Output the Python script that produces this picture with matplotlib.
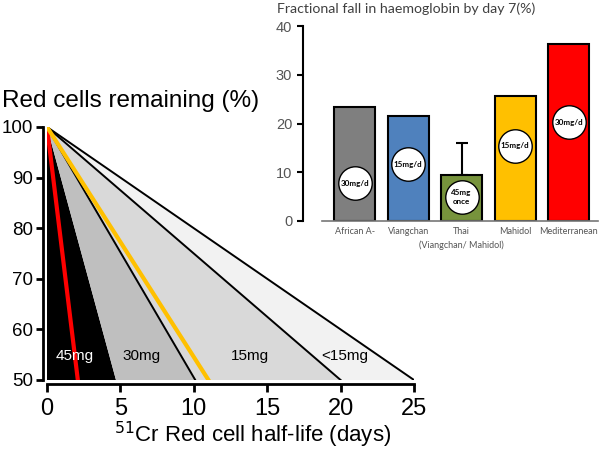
#!/usr/bin/env python3

import matplotlib
matplotlib.use("Agg")
import matplotlib.pyplot as plt

# left panel: 51Cr red cell half-life boundaries at 50% remaining (days)
dose_labels = ['45mg', '30mg', '15mg', '<15mg']
half_life_edges = [4.7, 10.1, 20.0, 25.0]
region_colors = ['#000000', '#bfbfbf', '#d9d9d9', '#f2f2f2']
red_half_life = 2.1
yellow_half_life = 11.0

# right panel: fractional fall in haemoglobin by day 7 (%)
groups = ['African A-', 'Viangchan', 'Thai', 'Mahidol', 'Mediterranean']
group_notes = ['', '', '(Viangchan/ Mahidol)', '', '']
hb_fall = [23.4, 21.5, 9.4, 25.7, 36.4]
hb_err_up = [0, 0, 6.7, 0, 0]
doses = ['30mg/d', '15mg/d', '45mg\nonce', '15mg/d', '30mg/d']
dose_y = [7.7, 11.6, 4.9, 15.4, 20.3]
bar_colors = ['#7f7f7f', '#4f81bd', '#77933c', '#ffc000', '#ff0000']

plt.rcParams['font.family'] = ['Liberation Sans', 'DejaVu Sans']

fig = plt.figure(figsize=(6, 4.51), dpi=100)

# ---- main triangle chart
ax = fig.add_axes([47/600, 1 - 380/451, (414 - 47)/600, (380 - 127)/451])
apex = (0.0, 100.0)
prev = apex[0]
for edge, col in zip(half_life_edges, region_colors):
    ax.fill([apex[0], prev, edge], [apex[1], 50, 50], color=col, lw=0)
    prev = edge
for edge in half_life_edges[1:]:
    ax.plot([apex[0], edge], [apex[1], 50], color='black', lw=1.4)
ax.plot([apex[0], red_half_life], [apex[1], 50], color='#ff0000', lw=3)
ax.plot([apex[0], yellow_half_life], [apex[1], 50], color='#ffc000', lw=3)

label_x = [1.9, 6.45, 13.85, 20.3]
for lx, txt, col in zip(label_x, dose_labels, region_colors):
    ax.text(lx, 54.7, txt, ha='center', va='center', fontsize=11,
            color='white' if col == '#000000' else 'black')

ax.set_xlim(0, 25)
ax.set_ylim(50, 100)
ax.set_xticks([0, 5, 10, 15, 20, 25])
ax.set_yticks([50, 60, 70, 80, 90, 100])
ax.tick_params(axis='x', labelsize=17, width=2, length=6, pad=4)
ax.tick_params(axis='y', labelsize=13.5, width=2, length=5, pad=2)
for s in ['top', 'right']:
    ax.spines[s].set_visible(False)
for s in ['left', 'bottom']:
    ax.spines[s].set_linewidth(2)
    ax.spines[s].set_position(('outward', 3))
fig.text(253/600, 1 - 442/451, '$^{51}$Cr Red cell half-life (days)',
         fontsize=16, ha='center', va='baseline')
fig.text(0.004, 1 - 101/451, 'Red cells remaining (%)', fontsize=17.5, va='center')

# ---- inset bar chart
lato = ['Lato', 'DejaVu Sans']
ax2 = fig.add_axes([322/600, 1 - 221/451, (598 - 322)/600, (221 - 26)/451])
xs = list(range(len(groups)))
ax2.bar(xs, hb_fall, width=0.77, color=bar_colors, edgecolor='black', lw=1.5, zorder=2)
ax2.errorbar([2], [hb_fall[2]], yerr=[[0], [hb_err_up[2]]], fmt='none',
             ecolor='black', elinewidth=1.5, capsize=4, capthick=1.5, zorder=1)
ax2.scatter(xs, dose_y, s=580, color='white', edgecolor='black', lw=1, zorder=3)
for x, y, d in zip(xs, dose_y, doses):
    ax2.text(x, y, d, ha='center', va='center', fontsize=5.8, fontweight='bold',
             family=lato, zorder=4, linespacing=1.4)
ax2.set_xlim(-0.61, 4.55)
ax2.set_ylim(0, 40)
ax2.set_yticks([0, 10, 20, 30, 40])
ax2.set_xticks(xs)
ax2.set_xticklabels(groups, fontsize=6.5, color='#555555', family=lato)
for x, note in zip(xs, group_notes):
    if note:
        ax2.annotate(note, xy=(x, 0), xycoords=('data', 'axes fraction'),
                     xytext=(0, -14), textcoords='offset points', ha='center',
                     va='top', fontsize=6.5, color='#555555', family=lato)
for lbl in ax2.get_yticklabels():
    lbl.set_family(lato)
ax2.tick_params(axis='y', labelsize=10.5, labelcolor='#555555', color='black',
                width=1.5, length=4)
ax2.tick_params(axis='x', length=0, pad=4)
for s in ['top', 'right']:
    ax2.spines[s].set_visible(False)
ax2.spines['left'].set_position(('outward', 14))
ax2.spines['left'].set_linewidth(1.5)
ax2.spines['bottom'].set_color('#777777')
ax2.spines['bottom'].set_linewidth(1.2)
ax2.patch.set_alpha(0)
fig.text(277/600, 1 - 9/451, 'Fractional fall in haemoglobin by day 7(%)',
         fontsize=10.2, color='#404040', va='center', family=lato)

fig.savefig('out.png', dpi=100)
plt.close(fig)
